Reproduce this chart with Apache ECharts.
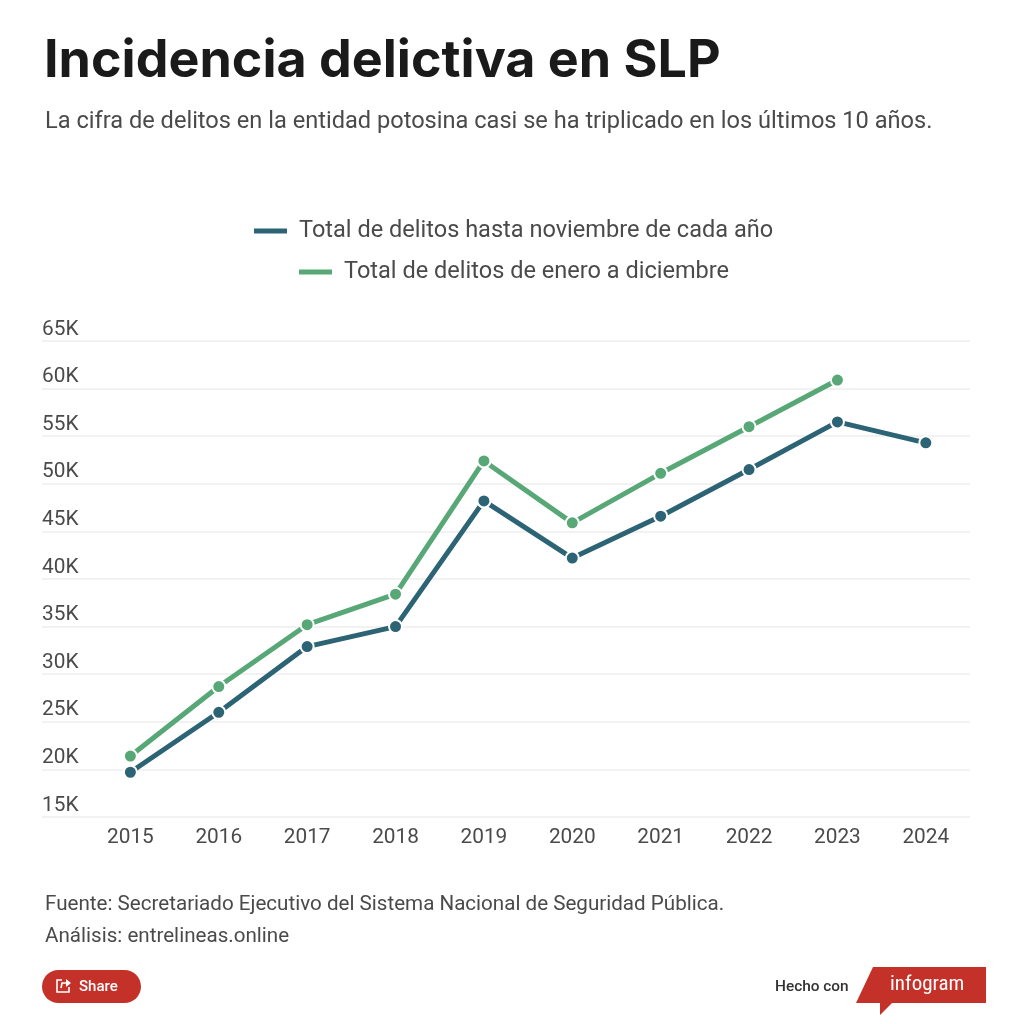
<!DOCTYPE html>
<html><head><meta charset="utf-8">
<style>html,body{margin:0;padding:0;background:#fff}#c{width:1024px;height:1024px}</style>
<script src="https://cdn.jsdelivr.net/npm/echarts@6/dist/echarts.min.js"></script>
</head><body><div id="c"></div>
<script>
const years=[2015,2016,2017,2018,2019,2020,2021,2022,2023,2024];
const hastaNoviembre=[19700,26000,32900,35000,48200,42200,46600,51500,56500,54300];
const eneroDiciembre=[21400,28700,35200,38400,52400,45900,51100,56000,60900];
const nameA='Total de delitos hasta noviembre de cada año';
const nameB='Total de delitos de enero a diciembre';
const colorA='#2d6475', colorB='#58a777', txt='#4a4a4a';
const F='Roboto';
const pair=(a)=>a.map((v,i)=>[years[i],v]);
const line=(name,data,color)=>({name,type:'line',data:pair(data),symbol:'circle',symbolSize:13,showSymbol:true,
  lineStyle:{color,width:5},itemStyle:{color,borderColor:'#fff',borderWidth:2},animation:false,z:3});
const T=(x,y,text,size,fill,extra)=>({type:'text',x,y,style:Object.assign({text,fontFamily:F,fontSize:size,fill,verticalAlign:'middle'},extra||{})});
const leg=(name,left,top)=>({data:[name],left,top,icon:'rect',itemWidth:33,itemHeight:5,itemGap:12,
  itemStyle:{borderWidth:0},textStyle:{fontFamily:F,fontSize:23.55,color:txt,padding:[0,0,0,7]},selectedMode:false});
const chart=echarts.init(document.getElementById('c'),null,{renderer:'canvas'});
chart.setOption({
  backgroundColor:'#fff',animation:false,
  grid:{left:42,right:54,top:341,bottom:207},
  legend:[leg(nameA,249,214),leg(nameB,294,255)],
  xAxis:{type:'value',min:2014,max:2024.5,interval:1,splitLine:{show:false},axisTick:{show:false},axisLine:{show:false},
    axisLabel:{fontFamily:F,fontSize:20.8,color:txt,margin:10,showMaxLabel:false,formatter:v=>years.includes(v)?String(v):''}},
  yAxis:{type:'value',min:15000,max:65000,interval:5000,
    axisLine:{show:false},axisTick:{show:false},
    splitLine:{show:true,lineStyle:{color:'#eeeeee',width:1.5}},
    axisLabel:{inside:true,margin:0,fontFamily:F,fontSize:20.8,color:txt,verticalAlign:'bottom',lineHeight:23,formatter:v=>(v/1000)+'K'}},
  series:[line(nameB,eneroDiciembre,colorB),line(nameA,hastaNoviembre,colorA)],
  graphic:[
    T(44,61,'Incidencia delictiva en SLP',52,'#1a1a1a',{fontWeight:'bold',fontFamily:'Inter'}),
    T(45,122,'La cifra de delitos en la entidad potosina casi se ha triplicado en los últimos 10 años.',23.6,txt),
    T(45,905,'Fuente: Secretariado Ejecutivo del Sistema Nacional de Seguridad Pública.',20.6,txt),
    T(45,937,'Análisis: entrelineas.online',20.6,txt),
    {type:'rect',shape:{x:42,y:970,width:99,height:33,r:16.5},style:{fill:'#c43129'}},
    {type:'polyline',shape:{points:[[62,980],[57,980],[57,992],[69,992],[69,987]]},style:{stroke:'#fff',lineWidth:1.6,fill:'none'}},
    {type:'polyline',shape:{points:[[61,988],[62,983],[69,983]]},style:{stroke:'#fff',lineWidth:1.6,fill:'none'}},
    {type:'polygon',shape:{points:[[66,979],[71,983],[66,987]]},style:{fill:'#fff'}},
    T(79,987,'Share',15,'#fff',{fontWeight:500}),
    T(775,987,'Hecho con',15.4,'#333',{fontWeight:500}),
    {type:'polygon',shape:{points:[[873,967],[986,967],[986,1003],[892,1003],[880,1015],[880,1003],[856,1003]]},style:{fill:'#c43129'}},
    T(890,985,'infogram',21,'#fff',{fontFamily:'Roboto Condensed, Roboto'})
  ]
});
</script></body></html>
